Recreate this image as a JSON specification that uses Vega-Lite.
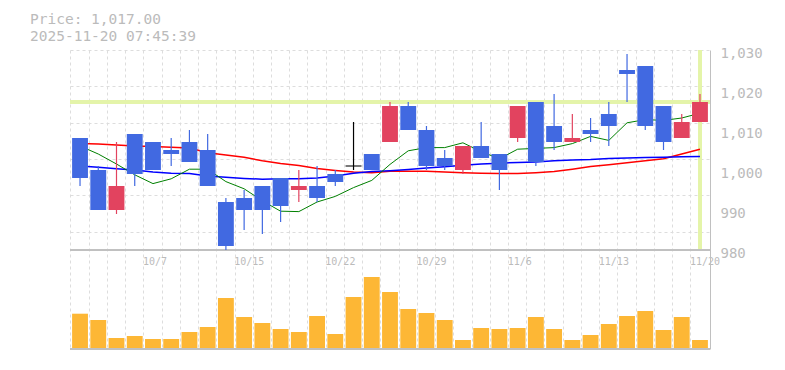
{
  "$schema": "https://vega.github.io/schema/vega-lite/v6.json",
  "width": 640,
  "height": 299,
  "autosize": "none",
  "padding": {"left": 70, "top": 50, "right": 75, "bottom": 21},
  "background": "white",
  "config": {"view": {"stroke": null}},
  "title": {
    "text": ["Price: 1,017.00", "2025-11-20 07:45:39"],
    "anchor": "start",
    "frame": "group",
    "dx": -40,
    "offset": 2,
    "font": "DejaVu Sans Mono",
    "fontSize": 14.5,
    "fontWeight": "normal",
    "color": "#bbbbbb",
    "lineHeight": 16.5
  },
  "data": {
    "values": [
      {"date": "2025-10-01", "open": 1008, "high": 1008, "low": 996, "close": 998, "volume": 35300, "ma5": 1006.0, "mab": 1001.0, "mar": 1006.6},
      {"date": "2025-10-02", "open": 1000, "high": 1001, "low": 990, "close": 990, "volume": 29000, "ma5": 1004.0, "mab": 1000.7, "mar": 1006.5},
      {"date": "2025-10-03", "open": 990, "high": 1007, "low": 989, "close": 996, "volume": 11000, "ma5": 1001.5, "mab": 1000.3, "mar": 1006.25},
      {"date": "2025-10-06", "open": 1009, "high": 1009, "low": 996, "close": 999, "volume": 13000, "ma5": 998.8, "mab": 1000.0, "mar": 1006.0},
      {"date": "2025-10-07", "open": 1007, "high": 1007, "low": 1000, "close": 1000, "volume": 10000, "ma5": 996.6, "mab": 999.5, "mar": 1005.9},
      {"date": "2025-10-08", "open": 1005, "high": 1008, "low": 1001, "close": 1004, "volume": 10000, "ma5": 997.8, "mab": 999.2, "mar": 1005.7},
      {"date": "2025-10-09", "open": 1007, "high": 1010, "low": 1002, "close": 1002, "volume": 17000, "ma5": 1000.2, "mab": 999.1, "mar": 1005.5},
      {"date": "2025-10-10", "open": 1005, "high": 1009, "low": 996, "close": 996, "volume": 22000, "ma5": 1000.2, "mab": 998.5, "mar": 1004.3},
      {"date": "2025-10-14", "open": 992, "high": 993, "low": 980, "close": 981, "volume": 51000, "ma5": 997.1, "mab": 998.2, "mar": 1003.75},
      {"date": "2025-10-15", "open": 993, "high": 995, "low": 985, "close": 990, "volume": 32000, "ma5": 995.3, "mab": 997.9, "mar": 1003.2},
      {"date": "2025-10-16", "open": 996, "high": 996, "low": 984, "close": 990, "volume": 26000, "ma5": 992.3, "mab": 997.7, "mar": 1002.3},
      {"date": "2025-10-17", "open": 998, "high": 998, "low": 987, "close": 991, "volume": 20000, "ma5": 989.7, "mab": 997.8, "mar": 1001.6},
      {"date": "2025-10-20", "open": 995, "high": 1000, "low": 992, "close": 996, "volume": 17000, "ma5": 989.6, "mab": 997.8, "mar": 1001.1},
      {"date": "2025-10-21", "open": 996, "high": 1001, "low": 992, "close": 993, "volume": 33000, "ma5": 992.0, "mab": 998.0, "mar": 1000.4},
      {"date": "2025-10-22", "open": 999, "high": 1000, "low": 996, "close": 997, "volume": 15000, "ma5": 993.4, "mab": 998.5, "mar": 999.9},
      {"date": "2025-10-23", "open": 1001, "high": 1012, "low": 1000, "close": 1001, "volume": 52000, "ma5": 995.6, "mab": 999.2, "mar": 999.5},
      {"date": "2025-10-24", "open": 1004, "high": 1004, "low": 1000, "close": 1000, "volume": 72000, "ma5": 997.4, "mab": 999.6, "mar": 999.3},
      {"date": "2025-10-27", "open": 1007, "high": 1017, "low": 1007, "close": 1016, "volume": 57000, "ma5": 1001.4, "mab": 999.8, "mar": 999.7},
      {"date": "2025-10-28", "open": 1016, "high": 1017, "low": 1010, "close": 1010, "volume": 40000, "ma5": 1004.8, "mab": 1000.1, "mar": 999.7},
      {"date": "2025-10-29", "open": 1010, "high": 1011, "low": 1000, "close": 1001, "volume": 36000, "ma5": 1005.6, "mab": 1000.5, "mar": 999.7},
      {"date": "2025-10-30", "open": 1003, "high": 1005, "low": 1000, "close": 1001, "volume": 29000, "ma5": 1005.6, "mab": 1000.8, "mar": 999.5},
      {"date": "2025-10-31", "open": 1000, "high": 1006, "low": 999, "close": 1006, "volume": 9000, "ma5": 1006.8, "mab": 1001.2, "mar": 999.3},
      {"date": "2025-11-04", "open": 1006, "high": 1012, "low": 1003, "close": 1003, "volume": 21000, "ma5": 1004.6, "mab": 1001.5, "mar": 999.2},
      {"date": "2025-11-05", "open": 1004, "high": 1004, "low": 995, "close": 1000, "volume": 20000, "ma5": 1002.8, "mab": 1001.7, "mar": 999.1},
      {"date": "2025-11-06", "open": 1008, "high": 1016, "low": 1007, "close": 1016, "volume": 21000, "ma5": 1005.2, "mab": 1001.9, "mar": 999.1},
      {"date": "2025-11-07", "open": 1017, "high": 1017, "low": 1001, "close": 1002, "volume": 32000, "ma5": 1005.4, "mab": 1002.0, "mar": 999.3},
      {"date": "2025-11-10", "open": 1011, "high": 1019, "low": 1005, "close": 1007, "volume": 20000, "ma5": 1005.6, "mab": 1002.3, "mar": 999.6},
      {"date": "2025-11-11", "open": 1007, "high": 1014, "low": 1007, "close": 1008, "volume": 9000, "ma5": 1006.6, "mab": 1002.5, "mar": 1000.2},
      {"date": "2025-11-12", "open": 1010, "high": 1013, "low": 1007, "close": 1009, "volume": 14000, "ma5": 1008.4, "mab": 1002.6, "mar": 1000.9},
      {"date": "2025-11-13", "open": 1014, "high": 1017, "low": 1006, "close": 1011, "volume": 25000, "ma5": 1007.4, "mab": 1002.9, "mar": 1001.3},
      {"date": "2025-11-14", "open": 1025, "high": 1029, "low": 1017, "close": 1024, "volume": 33000, "ma5": 1011.8, "mab": 1003.0, "mar": 1001.8},
      {"date": "2025-11-17", "open": 1026, "high": 1026, "low": 1010, "close": 1011, "volume": 38000, "ma5": 1012.6, "mab": 1003.1, "mar": 1002.3},
      {"date": "2025-11-18", "open": 1016, "high": 1016, "low": 1005, "close": 1007, "volume": 19000, "ma5": 1012.4, "mab": 1003.2, "mar": 1002.8},
      {"date": "2025-11-19", "open": 1008, "high": 1014, "low": 1008, "close": 1012, "volume": 32000, "ma5": 1013.0, "mab": 1003.3, "mar": 1004.0},
      {"date": "2025-11-20", "open": 1012, "high": 1019, "low": 1012, "close": 1017, "volume": 9000, "ma5": 1014.2, "mab": 1003.4, "mar": 1005.2}
    ]
  },
  "layer": [
    {
      "layer": [
        {
          "mark": {"type": "rule", "color": "#e4f4a9", "strokeWidth": 3},
          "encoding": {
            "y": {
              "datum": 1017, "type": "quantitative", "title": null,
              "scale": {"domain": [955.25, 1030], "nice": false, "zero": false},
              "axis": {
                "orient": "left", "labels": false, "ticks": false, "domain": false, "title": null,
                "grid": true, "gridColor": "#dddddd", "gridDash": [3, 3], "gridWidth": 1,
                "values": [984.545, 989.091, 993.636, 998.182, 1002.727, 1007.273, 1011.818, 1016.364, 1020.909, 1025.455, 1030]
              }
            }
          }
        },
        {
          "mark": {"type": "rule", "color": "#e4f4a9", "strokeWidth": 3},
          "encoding": {
            "x": {"datum": "2025-11-20", "type": "ordinal", "title": null},
            "y": {"datum": 1030, "type": "quantitative", "title": null},
            "y2": {"datum": 980}
          }
        }
      ]
    },
    {
      "layer": [
        {
          "mark": {"type": "bar", "color": "#fdb735", "width": {"band": 0.87}},
          "encoding": {
            "x": {
              "field": "date", "type": "ordinal", "title": null,
              "scale": {"paddingInner": 0, "paddingOuter": 0.05},
              "axis": {
                "orient": "bottom", "offset": -99, "domain": false, "ticks": false, "title": null,
                "grid": true, "gridColor": "#dddddd", "gridDash": [3, 3], "gridWidth": 1,
                "bandPosition": 0, "labelAlign": "left", "labelBaseline": "top", "labelPadding": 6,
                "labelOffset": -10, "labelAngle": 0,
                "labelFont": "DejaVu Sans Mono", "labelFontSize": 10, "labelColor": "#bbbbbb",
                "labelOverlap": false, "labelFlush": false,
                "labelExpr": "indexof(['2025-10-07','2025-10-15','2025-10-22','2025-10-29','2025-11-06','2025-11-13','2025-11-20'], datum.value) >= 0 ? toNumber(substring(datum.value,5,7)) + '/' + toNumber(substring(datum.value,8,10)) : ''"
              }
            },
            "y": {
              "field": "volume", "type": "quantitative", "title": null,
              "scale": {"domain": [0, 299000], "nice": false},
              "axis": null
            }
          }
        },
        {
          "mark": {"type": "rule", "color": "#c0c0c0", "strokeWidth": 1},
          "encoding": {"y": {"datum": 0, "type": "quantitative"}}
        }
      ]
    },
    {
      "layer": [
        {
          "mark": {"type": "rule", "color": "#c0c0c0", "strokeWidth": 1},
          "encoding": {
            "y": {
              "datum": 980, "type": "quantitative", "title": null,
              "scale": {"domain": [955.25, 1030], "nice": false, "zero": false},
              "axis": {
                "orient": "right", "title": null, "grid": false, "ticks": false,
                "domain": true, "domainColor": "#c0c0c0", "domainWidth": 1,
                "values": [980, 990, 1000, 1010, 1020, 1030], "format": ",d",
                "labelAlign": "left", "labelBaseline": "middle", "labelPadding": 10, "labelOffset": 3,
                "labelFont": "DejaVu Sans Mono", "labelFontSize": 14, "labelColor": "#bbbbbb",
                "labelFlush": false, "labelOverlap": false
              }
            }
          }
        },
        {
          "mark": {"type": "line", "color": "#ff0000", "strokeWidth": 1.5},
          "encoding": {
            "x": {"field": "date", "type": "ordinal", "title": null},
            "y": {"field": "mar", "type": "quantitative", "title": null}
          }
        },
        {
          "mark": {"type": "line", "color": "#0000ff", "strokeWidth": 1.5},
          "encoding": {
            "x": {"field": "date", "type": "ordinal", "title": null},
            "y": {"field": "mab", "type": "quantitative", "title": null}
          }
        },
        {
          "mark": {"type": "line", "color": "#008000", "strokeWidth": 1},
          "encoding": {
            "x": {"field": "date", "type": "ordinal", "title": null},
            "y": {"field": "ma5", "type": "quantitative", "title": null}
          }
        },
        {
          "mark": {"type": "rule", "strokeWidth": 1.2},
          "encoding": {
            "x": {"field": "date", "type": "ordinal", "title": null},
            "y": {"field": "low", "type": "quantitative", "title": null},
            "y2": {"field": "high"},
            "color": {
              "condition": [
                {"test": "datum.close > datum.open", "value": "#e2435f"},
                {"test": "datum.close == datum.open", "value": "#000000"}
              ],
              "value": "#4169e1"
            }
          }
        },
        {
          "mark": {"type": "bar", "width": {"band": 0.87}},
          "encoding": {
            "x": {"field": "date", "type": "ordinal", "title": null},
            "y": {"field": "open", "type": "quantitative", "title": null},
            "y2": {"field": "close"},
            "color": {
              "condition": [
                {"test": "datum.close > datum.open", "value": "#e2435f"},
                {"test": "datum.close == datum.open", "value": "#000000"}
              ],
              "value": "#4169e1"
            }
          }
        },
        {
          "transform": [{"filter": "datum.open == datum.close"}],
          "mark": {"type": "tick", "color": "#000000", "thickness": 1.5, "size": 16},
          "encoding": {
            "x": {"field": "date", "type": "ordinal", "title": null},
            "y": {"field": "close", "type": "quantitative", "title": null}
          }
        }
      ]
    }
  ],
  "resolve": {"scale": {"y": "independent"}, "axis": {"y": "independent"}}
}
